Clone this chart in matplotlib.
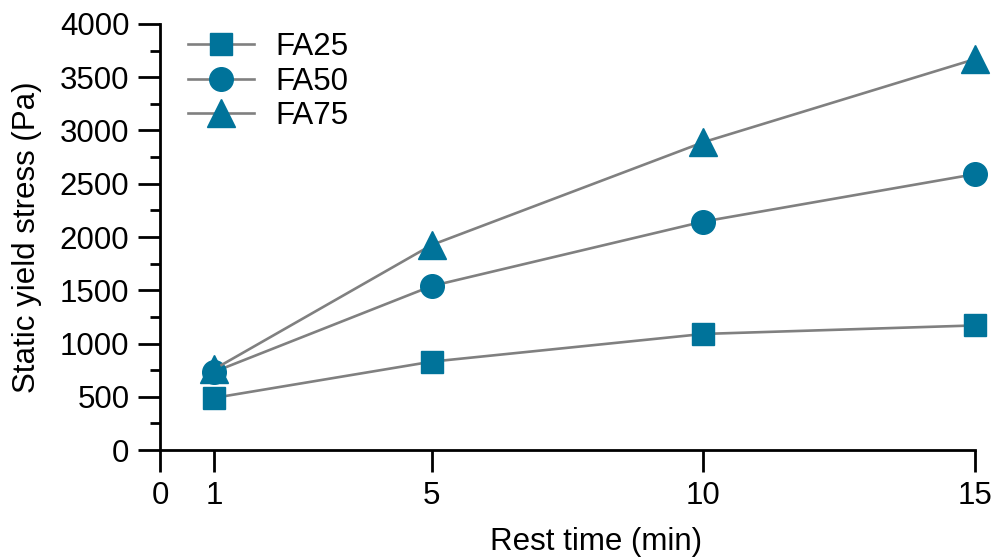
import matplotlib.pyplot as plt
from matplotlib.ticker import MultipleLocator

plt.rcParams['font.family'] = ['Liberation Sans', 'DejaVu Sans']

rest_time = [1, 5, 10, 15]
fa25 = [490, 830, 1090, 1170]
fa50 = [735, 1540, 2145, 2590]
fa75 = [760, 1925, 2890, 3670]

series = [("FA25", fa25, "s", 16), ("FA50", fa50, "o", 17), ("FA75", fa75, "^", 20)]
marker_color = "#00739a"
line_color = "#808080"
fs = 22.5

fig = plt.figure(figsize=(9.97, 5.57), dpi=100)
ax = fig.add_axes([0.1605, 0.192, 0.8175, 0.765])

for name, vals, mk, ms in series:
    ax.plot(rest_time, vals, color=line_color, lw=1.9, marker=mk, ms=ms,
            markerfacecolor=marker_color, markeredgecolor=marker_color,
            label=name, clip_on=False, zorder=3)

ax.set_xlim(0, 15)
ax.set_ylim(0, 4000)
ax.set_xticks([0, 1, 5, 10, 15])
ax.yaxis.set_major_locator(MultipleLocator(500))
ax.yaxis.set_minor_locator(MultipleLocator(250))

for side in ("top", "right"):
    ax.spines[side].set_visible(False)
for side in ("left", "bottom"):
    ax.spines[side].set_linewidth(2)

ax.tick_params(axis="x", which="major", length=16, width=2, labelsize=fs, pad=6)
ax.tick_params(axis="y", which="major", length=16, width=2, labelsize=fs, pad=6)
ax.tick_params(axis="y", which="minor", length=7, width=2)

ax.set_xlabel("Rest time (min)", fontsize=fs, labelpad=12)
ax.xaxis.label.set_x(0.535)
ax.set_ylabel("Static yield stress (Pa)", fontsize=fs, labelpad=13)

ax.legend(loc="upper left", bbox_to_anchor=(0.0, 1.047), frameon=False, fontsize=fs,
          handlelength=2.1, labelspacing=0.15, handletextpad=0.7)

fig.savefig("out.png", dpi=100)
